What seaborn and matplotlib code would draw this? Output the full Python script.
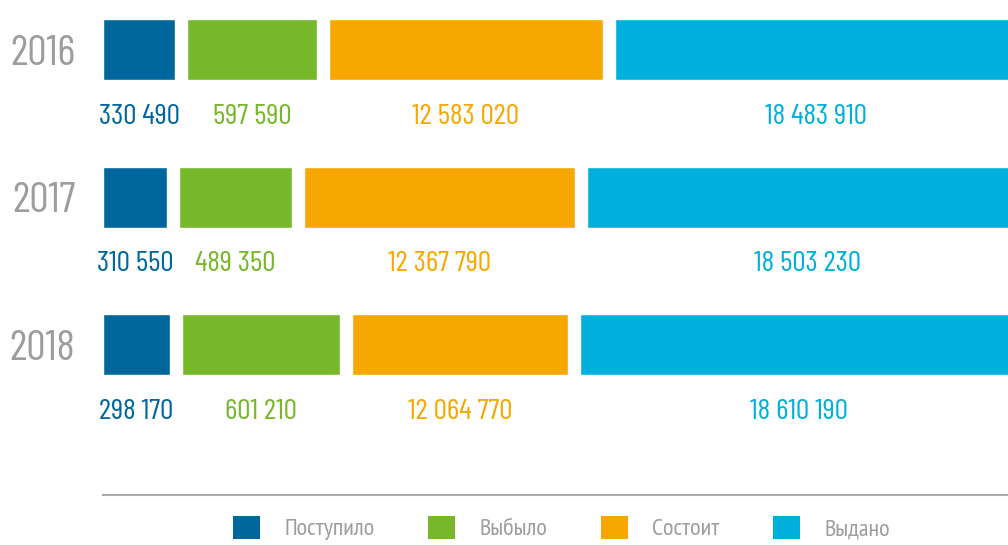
import numpy as np
import pandas as pd
import seaborn as sns
import matplotlib.pyplot as plt
from matplotlib.patches import Patch

# data
years = ["2016", "2017", "2018"]
series = ["Поступило", "Выбыло", "Состоит", "Выдано"]
# numbers printed under each segment
postupilo = [330490, 310550, 298170]
vybylo = [597590, 489350, 601210]
sostoit = [12583020, 12367790, 12064770]
vydano = [18483910, 18503230, 18610190]
# segment lengths as drawn (the bars are not to scale with the numbers)
len_postupilo = [72, 64, 67]
len_vybylo = [130, 113, 158]
len_sostoit = [274, 271, 216]
len_vydano = [402, 440, 438]

colors = ["#00679c", "#77b72a", "#f6a800", "#00afdb"]
grey = "#9d9d9d"
gap = 12

sns.set_theme(style="white")
# condensed face, Cyrillic falls through to the next family
plt.rcParams["font.family"] = ["Barlow Condensed", "PT Sans Narrow", "Roboto Condensed", "DejaVu Sans"]

values = [postupilo, vybylo, sostoit, vydano]
lengths = [len_postupilo, len_vybylo, len_sostoit, len_vydano]

fig = plt.figure(figsize=(10.08, 5.45), dpi=100)
ax = fig.add_axes([103 / 1008, 1 - 495 / 545, 1 - 103 / 1008, 495 / 545])

left = np.zeros(len(years))
for i, name in enumerate(series):
    df = pd.DataFrame({"year": years, "len": lengths[i]})
    sns.barplot(data=df, x="len", y="year", orient="h", color=colors[i],
                width=0.414, saturation=1, left=left, ax=ax)
    # value labels centered under each segment
    for j, yr in enumerate(years):
        centre = left[j] + lengths[i][j] / 2
        txt = f"{values[i][j]:,}".replace(",", " ")
        ax.text(centre, j + 0.457, txt, ha="center", va="center",
                fontsize=21.5, color=colors[i])
    left = left + np.array(lengths[i]) + gap

ax.set_xlim(0, 905)
ax.set_ylim(3.02, -0.336)
ax.set_xlabel("")
ax.set_ylabel("")
ax.set_xticks([])
ax.tick_params(axis="y", length=0, pad=20, labelsize=31, labelcolor=grey)
for s in ["top", "right", "left"]:
    ax.spines[s].set_visible(False)
ax.spines["bottom"].set_color("#aaaaaa")
ax.spines["bottom"].set_linewidth(1.5)

handles = [Patch(facecolor=c, edgecolor="none", label=n) for c, n in zip(colors, series)]
leg = fig.legend(handles=handles, loc="center", bbox_to_anchor=(0.557, 0.031),
                 ncol=4, frameon=False, fontsize=17.5, handlelength=1.12,
                 handleheight=1.07, handletextpad=1.0, columnspacing=2.2,
                 borderpad=0)
for t in leg.get_texts():
    t.set_color(grey)

fig.savefig("out.png", dpi=100)
